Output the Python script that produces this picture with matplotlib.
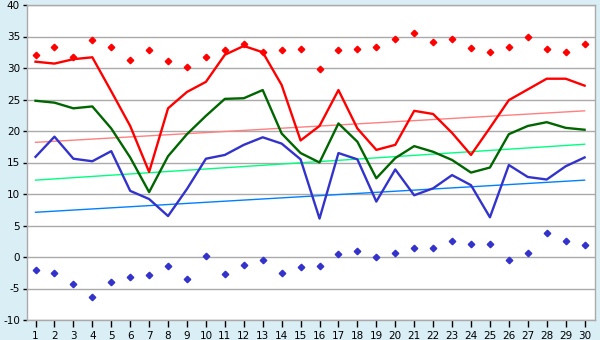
import matplotlib
matplotlib.use("Agg")
import matplotlib.pyplot as plt

days = list(range(1, 31))
max_abs = [32.0, 33.3, 31.8, 34.4, 33.3, 31.2, 32.8, 31.1, 30.1, 31.7,
           32.8, 33.8, 32.5, 32.8, 33.0, 29.8, 32.8, 33.0, 33.3, 34.6,
           35.5, 34.1, 34.6, 33.1, 32.5, 33.3, 35.0, 33.0, 32.5, 33.8]
max_avg = [31.0, 30.7, 31.4, 31.7, 26.3, 20.8, 13.5, 23.6, 26.2, 27.8,
           32.1, 33.5, 32.5, 27.3, 18.5, 20.8, 26.5, 20.4, 17.0, 17.8,
           23.2, 22.7, 19.7, 16.2, 20.5, 24.9, 26.6, 28.3, 28.3, 27.2]
mean_avg = [24.8, 24.5, 23.6, 23.9, 20.4, 15.8, 10.3, 16.0, 19.5, 22.4,
            25.1, 25.2, 26.5, 19.6, 16.5, 15.0, 21.2, 18.3, 12.5, 15.7,
            17.6, 16.7, 15.4, 13.4, 14.2, 19.5, 20.8, 21.4, 20.5, 20.2]
min_avg = [15.9, 19.1, 15.6, 15.2, 16.8, 10.5, 9.2, 6.5, 10.8, 15.6,
           16.2, 17.8, 19.0, 18.0, 15.5, 6.1, 16.5, 15.5, 8.8, 13.9,
           9.8, 10.9, 13.0, 11.4, 6.3, 14.6, 12.7, 12.3, 14.4, 15.8]
min_abs = [-2.1, -2.6, -4.3, -6.4, -4.0, -3.2, -2.9, -1.5, -3.5, 0.1,
           -2.7, -1.3, -0.4, -2.6, -1.6, -1.5, 0.4, 0.9, 0.0, 0.6,
           1.5, 1.5, 2.5, 2.0, 2.0, -0.5, 0.6, 3.8, 2.6, 1.9]
trend_x = [1, 30]
trend_max = [18.2, 23.2]
trend_mean = [12.2, 17.9]
trend_min = [7.1, 12.2]
yticks = [-10, -5, 0, 5, 10, 15, 20, 25, 30, 35, 40]

bg = "#DAEEF5"
fig = plt.figure(figsize=(6, 3.4), dpi=100, facecolor=bg)
ax = fig.add_axes([27/600, 1-320/340, 568/600, 315/340])
ax.set_facecolor("white")

for y in yticks:
    ax.axhline(y, color="#AAAAAA", lw=1, zorder=1)

ax.plot(trend_x, trend_max, color="#FF8080", lw=1, zorder=2)
ax.plot(trend_x, trend_mean, color="#00FF80", lw=1, zorder=2)
ax.plot(trend_x, trend_min, color="#0080FF", lw=1, zorder=2)

ax.plot(days, max_avg, color="#FF0000", lw=1.7, zorder=3)
ax.plot(days, mean_avg, color="#006600", lw=1.7, zorder=3)
ax.plot(days, min_avg, color="#3333CC", lw=1.7, zorder=3)

ax.plot(days, max_abs, ls="none", marker="D", ms=3.3, color="#FF0000", zorder=4)
ax.plot(days, min_abs, ls="none", marker="D", ms=3.3, color="#3333CC", zorder=4)

ax.set_xlim(0.55, 30.55)
ax.set_ylim(-10, 40)
ax.set_xticks(days)
ax.set_yticks(yticks)
ax.set_yticklabels([str(v) for v in yticks])
ax.tick_params(axis="both", labelsize=7.5, colors="black", width=1)
ax.tick_params(axis="y", length=3, pad=2)
ax.tick_params(axis="x", length=5, pad=3)
for s in ax.spines.values():
    s.set_color("#AAAAAA")
    s.set_linewidth(1)

fig.savefig("out.png", dpi=100, facecolor=bg)
